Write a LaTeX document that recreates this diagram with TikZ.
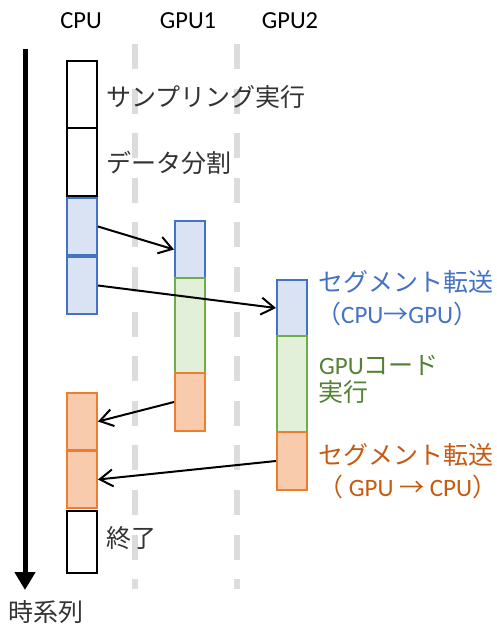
\documentclass[tikz,border=0pt]{standalone}
\usepackage{fontspec}
\setmainfont{Carlito}
\newfontfamily\jp{Noto Sans CJK JP}
\usetikzlibrary{arrows.meta}
\definecolor{bBd}{HTML}{4472C4}
\definecolor{bFl}{HTML}{DAE3F3}
\definecolor{gBd}{HTML}{70AD47}
\definecolor{gFl}{HTML}{E2F0D9}
\definecolor{oBd}{HTML}{ED7D31}
\definecolor{oFl}{HTML}{F8CBAD}
\definecolor{gTx}{HTML}{548235}
\definecolor{oTx}{HTML}{C55A11}
\definecolor{kTx}{HTML}{333333}
\definecolor{lane}{HTML}{DCDCDC}
\tikzset{
  blk/.style={draw, line width=2pt, minimum width=30pt, inner sep=0pt, anchor=north west},
  wbox/.style={blk, draw=black, fill=white},
  bbox/.style={blk, draw=bBd, fill=bFl},
  gbox/.style={blk, draw=gBd, fill=gFl},
  obox/.style={blk, draw=oBd, fill=oFl},
  lbl/.style={inner sep=0pt, anchor=west, font=\fontsize{25pt}{30pt}\selectfont},
  hdr/.style={inner sep=0pt, text=black, font=\fontsize{24.5pt}{28pt}\selectfont},
  lanestyle/.style={draw=lane, line width=6pt, dash pattern=on 25pt off 19.6pt},
  xfer/.style={draw=black, line width=2pt, -{Straight Barb[length=13pt,width=17pt,line width=2pt]}}
}
\begin{document}
\begin{tikzpicture}[x=1pt,y=-1pt]
\useasboundingbox (0,0) rectangle (497,626);
% lanes
\coordinate (l1a) at (135,44); \coordinate (l1b) at (135,589);
\coordinate (l2a) at (237,44); \coordinate (l2b) at (237,589);
\draw[lanestyle] (l1a) -- (l1b);
\draw[lanestyle] (l2a) -- (l2b);
% time axis
\coordinate (ta) at (25,49); \coordinate (tb) at (25,590);
\draw[line width=5pt, -{Triangle[length=18pt,width=20pt]}] (ta) -- (tb);
% headers
\node[hdr] (hcpu) at (81,21) {CPU};
\node[hdr] (hg1) at (188,21) {GPU1};
\node[hdr] (hg2) at (290,21) {GPU2};
% CPU boxes
\node[wbox, minimum height=67pt] (c1) at (66,60) {};
\node[wbox, minimum height=68pt] (c2) at (66,127) {};
\node[bbox, minimum height=57pt] (c3) at (66,197) {};
\node[bbox, minimum height=57pt] (c4) at (66,256) {};
\node[obox, minimum height=57pt] (c5) at (66,392) {};
\node[obox, minimum height=57pt] (c6) at (66,450) {};
\node[wbox, minimum height=62pt] (c7) at (66,510) {};
% GPU1 boxes
\node[bbox, minimum height=57pt] (g1a) at (174,220) {};
\node[gbox, minimum height=95pt] (g1b) at (174,277) {};
\node[obox, minimum height=58pt] (g1c) at (174,372) {};
% GPU2 boxes
\node[bbox, minimum height=56pt] (g2a) at (276,279) {};
\node[gbox, minimum height=96pt] (g2b) at (276,335) {};
\node[obox, minimum height=58pt] (g2c) at (276,431) {};
% transfers
\draw[xfer] (c3.east) -- (g1a.west);
\draw[xfer] (c4.east) -- (g2a.west);
\draw[xfer] (g1c.west) -- (c5.east);
\draw[xfer] (g2c.west) -- (c6.east);
% labels
\node[lbl, text=kTx] (t1) at (106,97) {\jp サンプリング実行};
\node[lbl, text=kTx] (t2) at (106,163) {\jp データ分割};
\node[lbl, text=bBd] (t3) at (318,282) {\jp セグメント転送};
\node[lbl, text=bBd] (t4) at (316,314) {{\jp （}CPU{\jp →}GPU{\jp ）}};
\node[lbl, text=gTx] (t5) at (319,365) {GPU{\jp コード}};
\node[lbl, text=gTx] (t6) at (318,392) {\jp 実行};
\node[lbl, text=oTx] (t7) at (318,455) {\jp セグメント転送};
\node[lbl, text=oTx] (t8) at (318,487) {{\jp （} GPU {\jp →} CPU{\jp ）}};
\node[lbl, text=kTx] (t9) at (106,538) {\jp 終了};
\node[lbl, text=kTx, anchor=center] (t10) at (46,612) {\jp 時系列};
\end{tikzpicture}
\end{document}
